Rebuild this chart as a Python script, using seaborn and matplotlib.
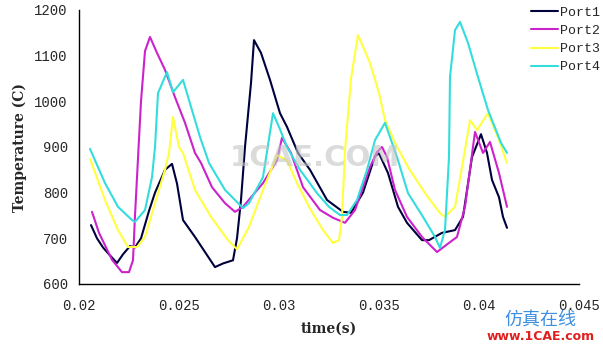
import numpy as np
import pandas as pd
import matplotlib
matplotlib.use("Agg")
import matplotlib.pyplot as plt
import seaborn as sns

# ---- data ----
port1_t = [0.0206, 0.0209, 0.0212, 0.0215, 0.0219, 0.0222, 0.02255, 0.0228, 0.0231, 0.0235, 0.0238,
           0.0243, 0.02465, 0.0249, 0.0252, 0.0258, 0.0263, 0.0268, 0.0272, 0.0277, 0.0279, 0.0281,
           0.0283, 0.0286, 0.02875, 0.0291, 0.02955, 0.03005, 0.0304, 0.03095, 0.03155, 0.0324,
           0.0332, 0.0336, 0.0342, 0.0348, 0.0350, 0.03545, 0.03595, 0.0364, 0.03715, 0.0375,
           0.03815, 0.0388, 0.0392, 0.03965, 0.0401, 0.0404, 0.04065, 0.0410, 0.0412, 0.0414]
port1_v = [729, 700, 680, 665, 646, 665, 683, 680, 700, 760, 800,
           850, 863, 820, 740, 703, 670, 637, 645, 652, 700, 784,
           900, 1040, 1134, 1106, 1047, 974, 944, 887, 850, 784,
           758, 756, 800, 880, 886, 843, 769, 734, 696, 696,
           712, 718, 747, 878, 928, 887, 828, 790, 747, 723]

port2_t = [0.02065, 0.0210, 0.02165, 0.02215, 0.0225, 0.0227, 0.0228, 0.0231, 0.0233, 0.02355,
           0.0239, 0.0243, 0.0248, 0.0253, 0.0258, 0.0261, 0.02665, 0.0273, 0.0278, 0.0282,
           0.0292, 0.0299, 0.03015, 0.0306, 0.0312, 0.03205, 0.0327, 0.0333, 0.0338, 0.03455,
           0.0349, 0.03515, 0.0354, 0.0358, 0.0364, 0.03715, 0.0379, 0.0385, 0.0389, 0.0393,
           0.0398, 0.0402, 0.04055, 0.0410, 0.0414]
port2_v = [758, 712, 653, 626, 626, 652, 750, 1000, 1110, 1141,
           1106, 1069, 1009, 953, 887, 865, 812, 777, 758, 769,
           821, 871, 920, 887, 812, 762, 745, 734, 762, 856,
           889, 900, 878, 806, 747, 703, 670, 690, 703, 769,
           933, 887, 911, 843, 769]

port3_t = [0.02055, 0.0213, 0.02195, 0.02245, 0.0229, 0.0233, 0.0238, 0.0243, 0.0245, 0.0247,
           0.0250, 0.0252, 0.0258, 0.0266, 0.02745, 0.0279, 0.0285, 0.0292, 0.0299, 0.0304,
           0.0309, 0.0315, 0.0322, 0.0327, 0.0330, 0.03315, 0.0333, 0.0336, 0.03395, 0.03455,
           0.0350, 0.0353, 0.0358, 0.03645, 0.0373, 0.03805, 0.0383, 0.0388, 0.03915, 0.03955,
           0.0399, 0.04045, 0.0410, 0.0414]
port3_v = [874, 784, 718, 681, 681, 703, 777, 850, 887, 966,
           900, 887, 806, 747, 696, 676, 725, 806, 882, 871,
           821, 769, 718, 690, 696, 747, 893, 1050, 1145, 1084,
           1018, 959, 909, 856, 799, 755, 747, 769, 856, 959,
           937, 974, 915, 865]

port4_t = [0.02055, 0.0213, 0.02195, 0.02265, 0.0228, 0.0233, 0.02365, 0.0238, 0.02395, 0.0244,
           0.0247, 0.0252, 0.0256, 0.02605, 0.0265, 0.0273, 0.0278, 0.0282, 0.0285, 0.0292,
           0.0297, 0.0300, 0.0304, 0.03105, 0.0319, 0.0325, 0.03305, 0.0334, 0.0339, 0.0344,
           0.0348, 0.0353, 0.0359, 0.03645, 0.0372, 0.0378, 0.03805, 0.0383, 0.0385, 0.03855,
           0.0388, 0.03905, 0.03945, 0.03995, 0.04045, 0.0411, 0.0414]
port4_v = [896, 821, 769, 740, 736, 762, 834, 900, 1018, 1064,
           1020, 1047, 988, 922, 865, 806, 784, 766, 777, 834,
           974, 944, 900, 850, 799, 769, 751, 751, 784, 850,
           915, 953, 878, 799, 747, 703, 679, 718, 878, 1053,
           1156, 1174, 1128, 1053, 981, 909, 887]

ports = ["Port1", "Port2", "Port3", "Port4"]
colors = ["#00003d", "#cc22cc", "#ffff40", "#33dddd"]
x_ticks = [0.02, 0.025, 0.03, 0.035, 0.04, 0.045]
x_tick_labels = ["0.02", "0.025", "0.03", "0.035", "0.04", "0.045"]
y_ticks = [600, 700, 800, 900, 1000, 1100, 1200]

frames = []
for name, t, v in zip(ports, [port1_t, port2_t, port3_t, port4_t],
                      [port1_v, port2_v, port3_v, port4_v]):
    frames.append(pd.DataFrame({"t": t, "T": v, "port": name}))
df = pd.concat(frames, ignore_index=True)

sns.set_style("white")
mono = ["Liberation Mono", "DejaVu Sans Mono"]

fig = plt.figure(figsize=(6.03, 3.44), dpi=100)
ax = fig.add_axes([79 / 603, 1 - 284 / 344, 500 / 603, 274 / 344])

sns.lineplot(data=df, x="t", y="T", hue="port", hue_order=ports,
             palette=dict(zip(ports, colors)), sort=False, estimator=None,
             linewidth=1.5, ax=ax, legend=True)

ax.set_xlim(0.02, 0.045)
ax.set_ylim(600, 1200)
ax.set_xticks(x_ticks)
ax.set_xticklabels(x_tick_labels, family=mono, fontsize=10)
ax.set_yticks(y_ticks)
ax.set_yticklabels([str(v) for v in y_ticks], family=mono, fontsize=10)
ax.tick_params(axis="both", direction="in", length=4, width=1, color="black")
ax.tick_params(axis="x", pad=11)
ax.tick_params(axis="y", pad=8)
for s in ["top", "right"]:
    ax.spines[s].set_visible(False)
for s in ["left", "bottom"]:
    ax.spines[s].set_color("black")
    ax.spines[s].set_linewidth(1)

ax.set_xlabel("time(s)", family="DejaVu Serif", fontweight="bold", fontsize=10, labelpad=6)
ax.set_ylabel("Temperature (C)", family="DejaVu Serif", fontweight="bold", fontsize=10, labelpad=5)

handles, labels = ax.get_legend_handles_labels()
ax.get_legend().remove()
leg = fig.legend(handles, labels, loc="upper left", bbox_to_anchor=(524 / 603, 1.0),
                 frameon=False, handlelength=2.1, handletextpad=0.1, labelspacing=0.45,
                 prop={"family": mono, "size": 9.5}, borderaxespad=0.1)

# watermarks
fig.text(315 / 603, 1 - 158 / 344, "1CAE.COM", fontsize=21, fontweight="bold", color="#c4c4c4",
         alpha=0.6, ha="center", va="center", family="DejaVu Sans")
fig.text(540 / 603, 1 - 321 / 344, "仿真在线", fontsize=13, color="#3d8fe0", ha="center", va="center",
         family=["Noto Sans CJK SC", "DejaVu Sans"], style="italic")
fig.text(541 / 603, 1 - 337 / 344, "www.1CAE.com", fontsize=9, fontweight="bold", color="#e02020",
         ha="center", va="center", family="DejaVu Sans")

fig.savefig("out.png", dpi=100)
